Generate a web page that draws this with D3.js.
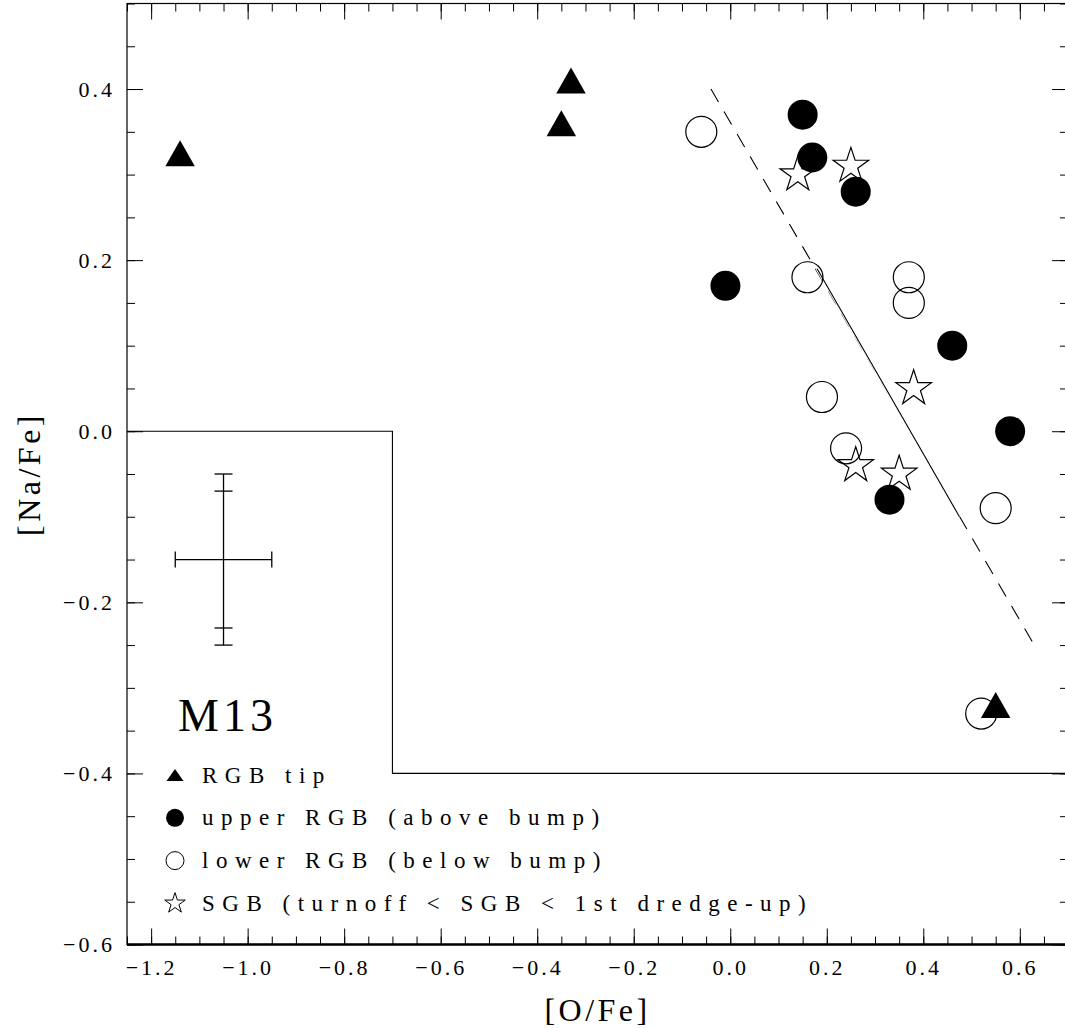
<!DOCTYPE html>
<html>
<head>
<meta charset="utf-8">
<script src="https://cdn.jsdelivr.net/npm/d3@7"></script>
<style>
  body { margin: 0; background: #fff; }
  svg text { font-family: "Liberation Serif", "Times New Roman", Times, "DejaVu Serif", serif !important; fill: #000; }
</style>
</head>
<body>
<div class="chart"></div>
<script>
var width = 1065, height = 1028;
var margin = {top: 3.5, left: 127, bottom: 83.5};

// axis ranges and ticks
var xDomain = [-1.25, 0.70];
var yDomain = [-0.6, 0.5];
var xMajor = [-1.2, -1.0, -0.8, -0.6, -0.4, -0.2, 0.0, 0.2, 0.4, 0.6];
var yMajor = [-0.6, -0.4, -0.2, 0.0, 0.2, 0.4];

// RGB tip (triangles)
var tipO  = [-1.14, -0.33, -0.35, 0.55];
var tipNa = [ 0.325, 0.41,  0.36, -0.32];
// upper RGB, above bump (filled circles)
var upperO  = [0.15, 0.17, 0.26, -0.01, 0.46, 0.58, 0.33];
var upperNa = [0.37, 0.32, 0.28,  0.17, 0.10, 0.00, -0.08];
// lower RGB, below bump (open circles)
var lowerO  = [-0.06, 0.16, 0.37, 0.37, 0.19, 0.24, 0.55, 0.52];
var lowerNa = [ 0.35, 0.18, 0.18, 0.15, 0.04, -0.02, -0.09, -0.33];
// SGB (stars)
var sgbO  = [0.14, 0.25, 0.38, 0.26, 0.35];
var sgbNa = [0.30, 0.31, 0.05, -0.04, -0.05];

// anticorrelation line: dashed extent and solid part
var fitO  = [-0.04, 0.63];
var fitNa = [ 0.40, -0.25];
var solidO  = [0.18, 0.475];
var solidNa = [0.19, -0.10];

// boundary box
var boxO  = [-1.25, -0.70, -0.70, 0.70];
var boxNa = [ 0.0,   0.0,  -0.4, -0.4];

// typical error bar
var errO = -1.05, errNa = -0.15, errDO = 0.10, errDNa = 0.10, errDNaIn = 0.08;

var legendLabels = ["RGB tip", "upper RGB (above bump)", "lower RGB (below bump)",
                    "SGB (turnoff < SGB < 1st dredge-up)"];
var legendKinds = ["tri", "fill", "open", "star"];

var x = d3.scaleLinear().domain(xDomain).range([margin.left, margin.left + 1.95 * 482.6]);
var y = d3.scaleLinear().domain(yDomain).range([height - margin.bottom, margin.top]);

var svg = d3.select(".chart").append("svg")
    .attr("width", width)
    .attr("height", height);

function range(a, b, s) {
    var out = [];
    for (var i = 0; a + i * s <= b + 1e-9; i++) out.push(+(a + i * s).toFixed(3));
    return out;
}
var xMinor = range(xDomain[0], xDomain[1], 0.05);
var yMinor = range(yDomain[0], yDomain[1], 0.05);

var x0 = x.range()[0], x1 = x.range()[1], y0 = y.range()[0], y1 = y.range()[1];

function styleAxis(g) {
    g.attr("font-family", null);
    g.select(".domain").remove();
    g.selectAll("line").attr("stroke", "#000").attr("stroke-width", 1);
    g.selectAll("text")
        .style("font-size", "22px")
        .style("letter-spacing", "3px");
}

// bottom
svg.append("g").attr("transform", "translate(0," + y0 + ")")
    .call(d3.axisBottom(x).tickValues(xMinor).tickSize(-8).tickFormat(""))
    .call(styleAxis);
svg.append("g").attr("transform", "translate(0," + y0 + ")")
    .call(d3.axisBottom(x).tickValues(xMajor).tickSize(-16).tickPadding(15).tickFormat(d3.format(".1f")))
    .call(styleAxis);
// top
svg.append("g").attr("transform", "translate(0," + y1 + ")")
    .call(d3.axisTop(x).tickValues(xMinor).tickSize(-8).tickFormat(""))
    .call(styleAxis);
svg.append("g").attr("transform", "translate(0," + y1 + ")")
    .call(d3.axisTop(x).tickValues(xMajor).tickSize(-16).tickFormat(""))
    .call(styleAxis);
// left
svg.append("g").attr("transform", "translate(" + x0 + ",0)")
    .call(d3.axisLeft(y).tickValues(yMinor).tickSize(-8).tickFormat(""))
    .call(styleAxis);
svg.append("g").attr("transform", "translate(" + x0 + ",0)")
    .call(d3.axisLeft(y).tickValues(yMajor).tickSize(-16).tickPadding(12).tickFormat(d3.format(".1f")))
    .call(styleAxis);
// right
svg.append("g").attr("transform", "translate(" + x1 + ",0)")
    .call(d3.axisRight(y).tickValues(yMinor).tickSize(-8).tickFormat(""))
    .call(styleAxis);
svg.append("g").attr("transform", "translate(" + x1 + ",0)")
    .call(d3.axisRight(y).tickValues(yMajor).tickSize(-16).tickFormat(""))
    .call(styleAxis);

// frame
svg.append("rect")
    .attr("x", x0).attr("y", y1)
    .attr("width", x1 - x0).attr("height", y0 - y1)
    .attr("fill", "none").attr("stroke", "#000").attr("stroke-width", 1.2);
svg.append("line")
    .attr("x1", x0).attr("x2", x1).attr("y1", y0).attr("y2", y0)
    .attr("stroke", "#000").attr("stroke-width", 2.4);

// axis titles
svg.append("text")
    .attr("x", (x0 + x1) / 2).attr("y", 1021)
    .attr("text-anchor", "middle")
    .style("font-size", "32px").style("letter-spacing", "3.5px")
    .text("[O/Fe]");
svg.append("text")
    .attr("transform", "translate(40," + ((y0 + y1) / 2) + ") rotate(-90)")
    .attr("text-anchor", "middle")
    .style("font-size", "32px").style("letter-spacing", "3.5px")
    .text("[Na/Fe]");

// box
var lineGen = d3.line().x(function(d){ return x(d[0]); }).y(function(d){ return y(d[1]); });
svg.append("path")
    .datum(d3.zip(boxO, boxNa))
    .attr("d", lineGen)
    .attr("fill", "none").attr("stroke", "#000").attr("stroke-width", 1.1);

// fit line
svg.append("path")
    .datum(d3.zip(fitO, fitNa))
    .attr("d", lineGen)
    .attr("fill", "none").attr("stroke", "#000").attr("stroke-width", 1.1)
    .attr("stroke-dasharray", "15,11");
svg.append("path")
    .datum(d3.zip(solidO, solidNa))
    .attr("d", lineGen)
    .attr("fill", "none").attr("stroke", "#fff").attr("stroke-width", 3);
svg.append("path")
    .datum(d3.zip(solidO, solidNa))
    .attr("d", lineGen)
    .attr("fill", "none").attr("stroke", "#000").attr("stroke-width", 1.1);

// error cross
var eg = svg.append("g").attr("stroke", "#000").attr("stroke-width", 1.3);
var ex = x(errO), ey = y(errNa);
eg.append("line").attr("x1", x(errO - errDO)).attr("x2", x(errO + errDO)).attr("y1", ey).attr("y2", ey);
eg.append("line").attr("x1", ex).attr("x2", ex).attr("y1", y(errNa + errDNa)).attr("y2", y(errNa - errDNa));
[errO - errDO, errO + errDO].forEach(function(v){
    eg.append("line").attr("x1", x(v)).attr("x2", x(v)).attr("y1", ey - 8).attr("y2", ey + 8);
});
[errNa + errDNa, errNa - errDNa, errNa + errDNaIn, errNa - errDNaIn].forEach(function(v){
    eg.append("line").attr("x1", ex - 9).attr("x2", ex + 9).attr("y1", y(v)).attr("y2", y(v));
});

// symbols
function triPath(w, h) {
    return "M0," + (-h / 2) + "L" + (w / 2) + "," + (h / 2) + "L" + (-w / 2) + "," + (h / 2) + "Z";
}
function starPath(R) {
    var r = R * 0.382, pts = [];
    for (var i = 0; i < 10; i++) {
        var a = -Math.PI / 2 + i * Math.PI / 5, rr = i % 2 ? r : R;
        pts.push([rr * Math.cos(a), rr * Math.sin(a)]);
    }
    return "M" + pts.map(function(p){ return p[0].toFixed(2) + "," + p[1].toFixed(2); }).join("L") + "Z";
}

svg.selectAll(".lower")
    .data(d3.zip(lowerO, lowerNa))
    .join("circle")
    .attr("class", "lower")
    .attr("cx", function(d){ return x(d[0]); })
    .attr("cy", function(d){ return y(d[1]); })
    .attr("r", 15.5)
    .attr("fill", "none").attr("stroke", "#000").attr("stroke-width", 1.2);

svg.selectAll(".sgb")
    .data(d3.zip(sgbO, sgbNa))
    .join("path")
    .attr("class", "sgb")
    .attr("transform", function(d){ return "translate(" + x(d[0]) + "," + y(d[1]) + ")"; })
    .attr("d", starPath(18.7))
    .attr("fill", "none").attr("stroke", "#000").attr("stroke-width", 1.2);

svg.selectAll(".upper")
    .data(d3.zip(upperO, upperNa))
    .join("circle")
    .attr("class", "upper")
    .attr("cx", function(d){ return x(d[0]); })
    .attr("cy", function(d){ return y(d[1]); })
    .attr("r", 15)
    .attr("fill", "#000");

svg.selectAll(".tip")
    .data(d3.zip(tipO, tipNa))
    .join("path")
    .attr("class", "tip")
    .attr("transform", function(d){ return "translate(" + x(d[0]) + "," + y(d[1]) + ")"; })
    .attr("d", triPath(29.5, 26))
    .attr("fill", "#000");

// cluster name
svg.append("text")
    .attr("x", 178).attr("y", 731)
    .style("font-size", "46px").style("letter-spacing", "4px")
    .text("M13");

// legend
var leg = svg.selectAll(".leg")
    .data(legendLabels)
    .join("g")
    .attr("class", "leg")
    .attr("transform", function(d, i){ return "translate(175," + (775 + i * 42.8) + ")"; });

leg.each(function(d, i){
    var g = d3.select(this), k = legendKinds[i];
    if (k == "tri") g.append("path").attr("d", triPath(17, 12)).attr("fill", "#000");
    if (k == "fill") g.append("circle").attr("r", 9).attr("fill", "#000");
    if (k == "open") g.append("circle").attr("r", 9).attr("fill", "none").attr("stroke", "#000").attr("stroke-width", 1);
    if (k == "star") g.append("path").attr("d", starPath(10.8)).attr("fill", "none").attr("stroke", "#000").attr("stroke-width", 1);
});
leg.append("text")
    .attr("x", 27).attr("y", 7.5)
    .style("font-size", "23px").style("letter-spacing", "7.5px")
    .text(function(d){ return d; });
</script>
</body>
</html>
